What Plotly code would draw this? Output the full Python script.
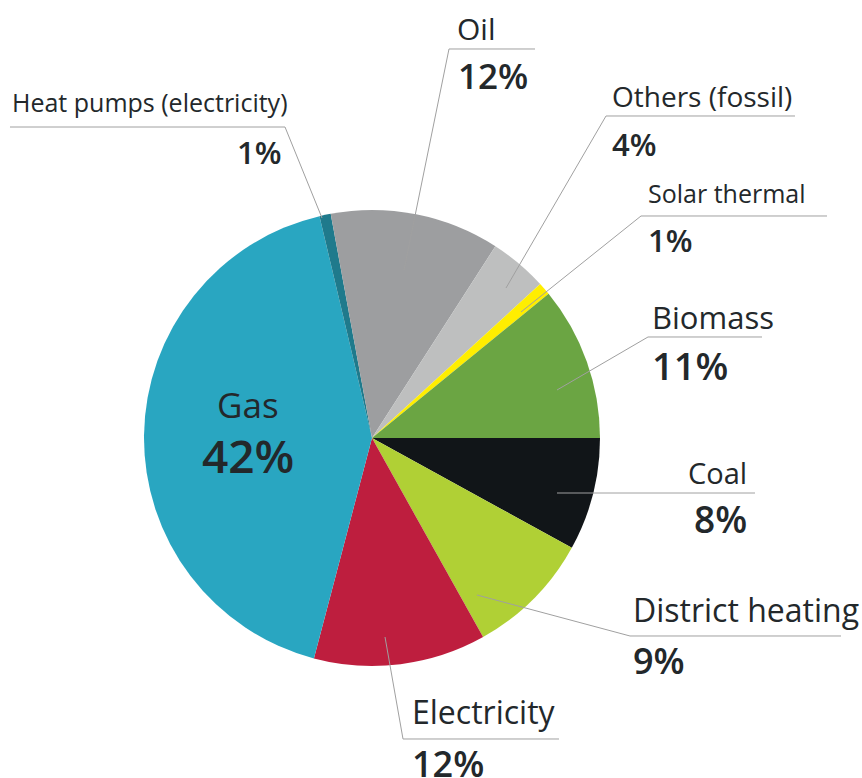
import plotly.graph_objects as go

W, H = 862, 778

# slices, clockwise from 3 o'clock
labels = ["Coal", "District heating", "Electricity", "Gas", "Heat pumps (electricity)",
          "Oil", "Others (fossil)", "Solar thermal", "Biomass"]
values = [8.0, 8.9, 12.2, 42.2, 0.8, 12.0, 4.1, 0.9, 10.9]
pct_text = ["8%", "9%", "12%", "42%", "1%", "12%", "4%", "1%", "11%"]
colors = ["#111518", "#b0d035", "#be1e3e", "#29a6c1", "#1f7a8c",
          "#9d9ea0", "#bebfbf", "#ffee00", "#6ba543"]

TEXT = "#23282b"
LINE = "#a0a0a0"
FONT = "Open Sans"


def px(x):
    return x / W


def py(y):
    return 1 - y / H


# label placement in pixels: name (x, y, size, anchor), pct (x, y, size), leader polyline
placement = {
    "Heat pumps (electricity)": dict(name=(10, 102, 25, "left"), pct=(284, 152, 31, "right"),
                                     leader=[(322, 218), (285, 127), (10, 127)]),
    "Oil": dict(name=(455, 28, 30, "left"), pct=(456, 76, 35, "left"),
                leader=[(404, 270), (449, 49), (535, 49)]),
    "Others (fossil)": dict(name=(610, 96, 28, "left"), pct=(610, 144, 31, "left"),
                            leader=[(506, 288), (606, 116), (795, 116)]),
    "Solar thermal": dict(name=(646, 193, 25, "left"), pct=(646, 240, 31, "left"),
                          leader=[(521, 312), (641, 216), (827, 216)]),
    "Biomass": dict(name=(650, 317, 31, "left"), pct=(650, 365, 38, "left"),
                    leader=[(557, 390), (648, 337), (762, 337)]),
    "Coal": dict(name=(749, 472, 29, "right"), pct=(749, 518, 37, "right"),
                 leader=[(557, 493), (755, 493)]),
    "District heating": dict(name=(631, 609, 32, "left"), pct=(631, 660, 36, "left"),
                             leader=[(477, 595), (630, 636), (841, 636)]),
    "Electricity": dict(name=(410, 711, 32, "left"), pct=(410, 763, 36, "left"),
                        leader=[(385, 637), (403, 739), (559, 739)]),
}

cx, cy, r = 372, 438, 228

fig = go.Figure(
    go.Pie(
        labels=labels,
        values=values,
        sort=False,
        direction="clockwise",
        rotation=90,
        marker=dict(colors=colors, line=dict(width=0)),
        textinfo="none",
        hoverinfo="label+percent",
        domain=dict(x=[px(cx - r), px(cx + r)], y=[py(cy + r), py(cy - r)]),
        showlegend=False,
    )
)

annotations = []
shapes = []

for lab, pct in zip(labels, pct_text):
    if lab not in placement:
        continue
    p = placement[lab]
    nx, ny, ns, na = p["name"]
    annotations.append(dict(
        x=px(nx), y=py(ny), xref="paper", yref="paper",
        text=lab, showarrow=False, xanchor=na, yanchor="middle",
        font=dict(family=FONT, size=ns, color=TEXT),
    ))
    qx, qy, qs, qa = p["pct"]
    annotations.append(dict(
        x=px(qx), y=py(qy), xref="paper", yref="paper",
        text=pct, showarrow=False, xanchor=qa, yanchor="middle",
        font=dict(family=FONT, size=qs, color=TEXT, weight=600),
    ))
    pts = p["leader"]
    path = "M " + " L ".join(f"{px(x):.5f},{py(y):.5f}" for x, y in pts)
    shapes.append(dict(type="path", path=path, xref="paper", yref="paper",
                       line=dict(color=LINE, width=1)))

# Gas label sits inside its slice
gas_pct = pct_text[labels.index("Gas")]
annotations.append(dict(x=px(248), y=py(404), xref="paper", yref="paper", text="Gas",
                        xanchor="center", yanchor="middle", showarrow=False,
                        font=dict(family=FONT, size=35, color=TEXT)))
annotations.append(dict(x=px(248), y=py(455), xref="paper", yref="paper", text=gas_pct,
                        xanchor="center", yanchor="middle", showarrow=False,
                        font=dict(family=FONT, size=46, color=TEXT, weight=600)))

fig.update_layout(
    width=W,
    height=H,
    margin=dict(l=0, r=0, t=0, b=0),
    paper_bgcolor="white",
    plot_bgcolor="white",
    annotations=annotations,
    shapes=shapes,
)

# drop the page's default body margin so the figure sits at the window corner
fig.write_html("out.html", config={"displayModeBar": False},
               post_script="document.body.style.margin='0';")
